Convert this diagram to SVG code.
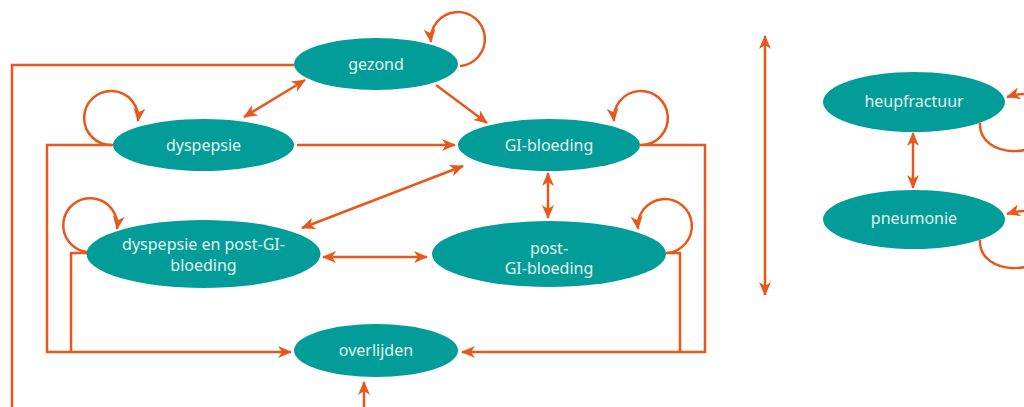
<svg xmlns="http://www.w3.org/2000/svg" width="1024" height="407" viewBox="0 0 1024 407">
<style>
.n{fill:#029d98}
.t{font-family:"Noto Sans","DejaVu Sans",sans-serif;font-size:16px;fill:#e4f3f1;text-anchor:middle;dominant-baseline:central}
.c{fill:none;stroke:#e8581c;stroke-width:2.5}
</style>
<defs>
<marker id="ah" viewBox="0 0 14 12" refX="13" refY="6" markerWidth="14" markerHeight="12" markerUnits="userSpaceOnUse" orient="auto-start-reverse">
<path d="M0,0 L14,6 L0,12 L4,6 Z" fill="#e8581c"/>
</marker>
</defs>
<g id="connectors">
<path class="c" d="M294,65 H12 V407"/>
<path class="c" d="M113,145 H47 V352 H291" marker-end="url(#ah)"/>
<path class="c" d="M87,253 H71 V352"/>
<path class="c" d="M640,145 H705 V352 H462" marker-end="url(#ah)"/>
<path class="c" d="M666,253 H680 V352"/>
<path class="c" d="M364,407 V382" marker-end="url(#ah)"/>
<path class="c" d="M244,117 L305,80" marker-start="url(#ah)" marker-end="url(#ah)"/>
<path class="c" d="M436,85 L487,123" marker-end="url(#ah)"/>
<path class="c" d="M297,145 L455,145" marker-end="url(#ah)"/>
<path class="c" d="M302,228 L463,166" marker-start="url(#ah)" marker-end="url(#ah)"/>
<path class="c" d="M323,257 L427,257" marker-start="url(#ah)" marker-end="url(#ah)"/>
<path class="c" d="M548,173 L548,218" marker-start="url(#ah)" marker-end="url(#ah)"/>
<path class="c" d="M765,36 L765,295" marker-start="url(#ah)" marker-end="url(#ah)"/>
<path class="c" d="M913,133 L913,188" marker-start="url(#ah)" marker-end="url(#ah)"/>
<path class="c" d="M460,66 A27,27 0 1,0 431,42" marker-end="url(#ah)"/>
<path class="c" d="M642,145 A27,27 0 1,0 614,121" marker-end="url(#ah)"/>
<path class="c" d="M667,253 A27,27 0 1,0 638,229" marker-end="url(#ah)"/>
<path class="c" d="M112,145 A27,27 0 1,1 138,121" marker-end="url(#ah)"/>
<path class="c" d="M87,252 A27,27 0 1,1 117,229" marker-end="url(#ah)"/>
<path class="c" d="M980,123 C978,160 1050,162 1050,120 C1050,95 1030,90 1007,97" marker-end="url(#ah)"/>
<path class="c" d="M980,240 C978,277 1050,279 1050,237 C1050,212 1030,207 1007,214" marker-end="url(#ah)"/>
</g>
<g id="gezond"><ellipse class="n" cx="376" cy="64" rx="82" ry="26"/><text class="t" x="376" y="64">gezond</text></g>
<g id="dyspepsie"><ellipse class="n" cx="203.5" cy="145" rx="90.5" ry="26"/><text class="t" x="203.5" y="145">dyspepsie</text></g>
<g id="gi-bloeding"><ellipse class="n" cx="549" cy="145" rx="91" ry="26"/><text class="t" x="549" y="145">GI-bloeding</text></g>
<g id="dyspepsie-post"><ellipse class="n" cx="203.5" cy="254" rx="117" ry="34"/><text class="t" x="203.5" y="244">dyspepsie en post-GI-</text><text class="t" x="203.5" y="265">bloeding</text></g>
<g id="post-gi"><ellipse class="n" cx="549" cy="254" rx="117" ry="33"/><text class="t" x="549" y="248">post-</text><text class="t" x="549" y="268">GI-bloeding</text></g>
<g id="overlijden"><ellipse class="n" cx="376" cy="350.5" rx="82" ry="26.5"/><text class="t" x="376" y="350">overlijden</text></g>
<g id="heupfractuur"><ellipse class="n" cx="914" cy="102" rx="91" ry="30"/><text class="t" x="914" y="101">heupfractuur</text></g>
<g id="pneumonie"><ellipse class="n" cx="914" cy="219.5" rx="91" ry="29.5"/><text class="t" x="914" y="218">pneumonie</text></g>
</svg>
